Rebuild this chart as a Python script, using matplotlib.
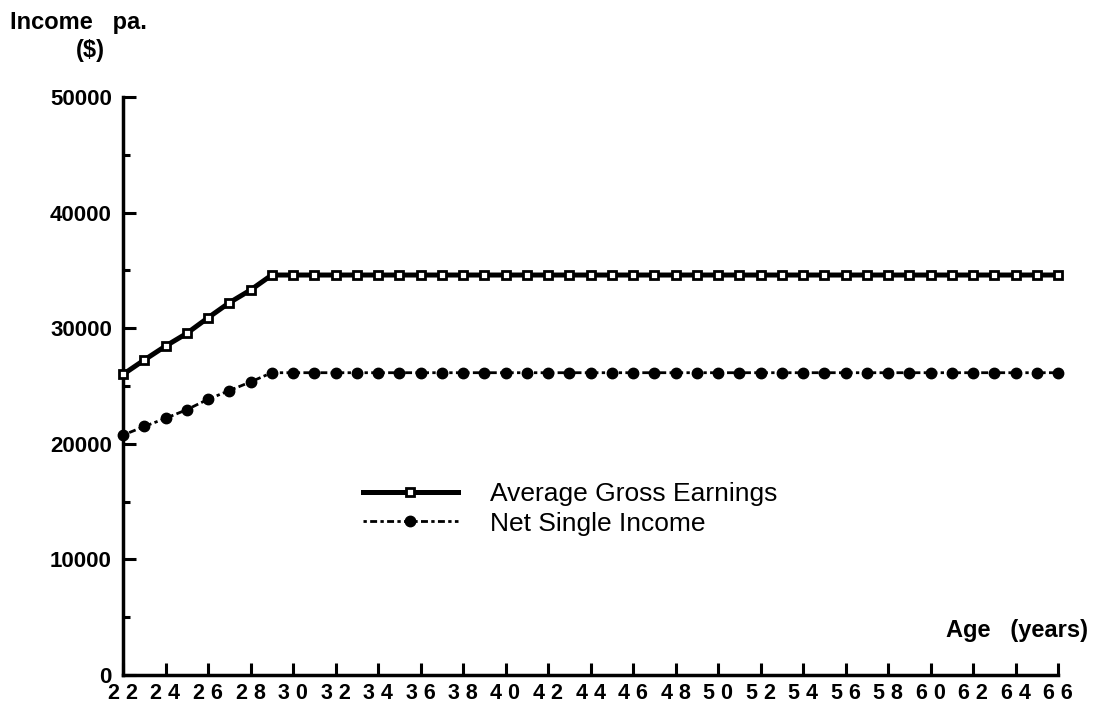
import matplotlib
matplotlib.use("Agg")
import matplotlib.pyplot as plt
from matplotlib.ticker import MultipleLocator

ages = list(range(22, 67))
gross_ramp = [26000, 27250, 28450, 29550, 30900, 32200, 33300, 34600]
net_ramp = [20750, 21500, 22200, 22950, 23850, 24600, 25350, 26150]
gross_plateau = 34600
net_plateau = 26150
gross = gross_ramp + [gross_plateau] * (len(ages) - len(gross_ramp))
net = net_ramp + [net_plateau] * (len(ages) - len(net_ramp))

x_ticks = list(range(22, 67, 2))
x_tick_labels = [" ".join(str(a)) for a in x_ticks]
y_ticks = [0, 10000, 20000, 30000, 40000, 50000]
y_tick_labels = [str(v) for v in y_ticks]

plt.rcParams['font.family'] = ['Liberation Sans', 'DejaVu Sans']

fig = plt.figure(figsize=(10.94, 7.07), dpi=100)
ax = fig.add_axes([123/1094, 1 - 675/707, (1058 - 123)/1094, (675 - 97)/707])

ax.plot(ages, gross, color='black', lw=3.6, marker='s', markersize=6,
        markerfacecolor='white', markeredgecolor='black', markeredgewidth=2.0,
        label='Average Gross Earnings', clip_on=False, zorder=3)
ax.plot(ages, net, color='black', lw=2.0, linestyle=(0, (1.2, 1.2, 2.5, 1.2)), marker='o',
        markersize=7.5, markerfacecolor='black', markeredgecolor='black',
        label='Net Single Income', clip_on=False, zorder=3)

ax.set_xlim(22, 66)
ax.set_ylim(0, 50000)
ax.spines['top'].set_visible(False)
ax.spines['right'].set_visible(False)
ax.spines['left'].set_linewidth(2.5)
ax.spines['bottom'].set_linewidth(2.5)

ax.set_xticks(x_ticks)
ax.set_xticklabels(x_tick_labels, fontsize=15.5, fontweight='bold')
ax.set_yticks(y_ticks)
ax.set_yticklabels(y_tick_labels, fontsize=16, fontweight='bold')
ax.yaxis.set_minor_locator(MultipleLocator(5000))
ax.tick_params(axis='both', which='both', direction='in', width=2.2)
ax.tick_params(axis='x', which='major', length=9, pad=6)
ax.tick_params(axis='y', which='major', length=9, pad=8)
ax.tick_params(axis='y', which='minor', length=5)

fig.text(10/1094, 1 - 22/707, 'Income   pa.', fontsize=17, fontweight='bold', va='center', ha='left')
fig.text(90/1094, 1 - 50/707, '($)', fontsize=17, fontweight='bold', va='center', ha='center')
fig.text(1088/1094, 1 - 631/707, 'Age   (years)', fontsize=17, fontweight='bold', va='center', ha='right')

leg = ax.legend(loc='upper left', bbox_to_anchor=((355 - 123)/935, (675 - 474)/578),
                frameon=False, fontsize=19, handlelength=3.6, handletextpad=1.2,
                labelspacing=0.22, markerscale=1.0, borderaxespad=0, borderpad=0.3)

fig.savefig('out.png', dpi=100)
